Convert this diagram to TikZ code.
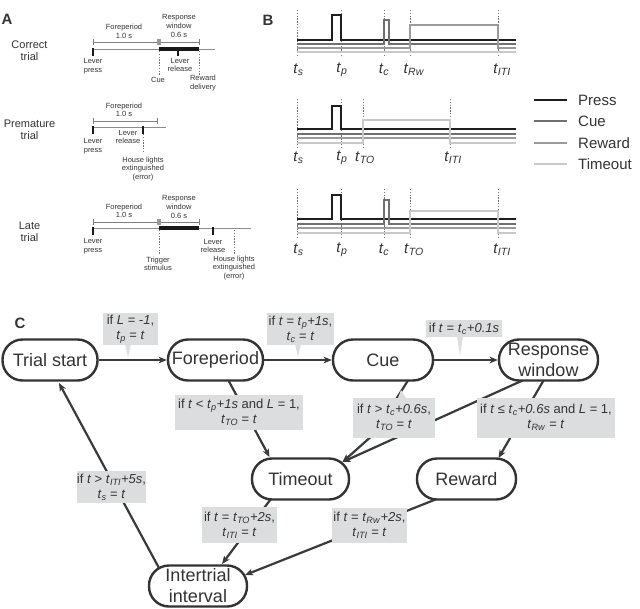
\documentclass[tikz,border=0pt]{standalone}
\usepackage{fontspec}
\setmainfont{Liberation Sans}
\usetikzlibrary{arrows.meta,calc}
\definecolor{ink}{HTML}{333333}
\definecolor{edgec}{HTML}{3A3A3A}
\definecolor{labfill}{HTML}{DCDDDF}
\definecolor{pressc}{HTML}{1E1E1E}
\definecolor{cuec}{HTML}{707070}
\definecolor{rewc}{HTML}{9B9B9B}
\definecolor{toc}{HTML}{C9C9C9}
\newcommand{\iv}[1]{\textit{#1}}
\newcommand{\tsb}[2]{\textit{#1}\textsubscript{\textit{#2}}}
\tikzset{
  plabel/.style={font=\fontsize{15}{17}\selectfont\bfseries, text=ink, inner sep=0},
  rowlab/.style={font=\fontsize{11}{12}\selectfont, text=ink, align=center, inner sep=0},
  atext/.style={font=\fontsize{7.5}{8.6}\selectfont, text=ink, align=center, inner sep=0},
  brk/.style={draw=black!50, line width=0.7pt},
  cuebox/.style={fill=black!40},
  tline/.style={draw=black!45, line width=0.8pt},
  bar/.style={draw=black!90, line width=3.6pt},
  tickm/.style={draw=black!90, line width=1.6pt},
  dsh/.style={draw=black!55, line width=0.6pt, dash pattern=on 1.4pt off 1.4pt},
  sig/.style={line width=2pt, line join=miter},
  tlab/.style={font=\fontsize{15}{17}\selectfont, text=ink, inner sep=0},
  legtext/.style={font=\fontsize{15}{17}\selectfont, text=ink, inner sep=0, anchor=west},
  state/.style={draw=ink, line width=2.4pt, rounded corners=20pt, minimum height=41pt,
    inner sep=0, align=center, font=\fontsize{18}{21}\selectfont, text=ink},
  cond/.style={fill=labfill, inner sep=0, align=center,
    font=\fontsize{13}{15}\selectfont, text=ink},
  edge/.style={draw=edgec, line width=2.2pt, -{Stealth[length=8pt,width=6.5pt,inset=2pt]}},
  ptr/.style={fill=labfill}
}
\begin{document}
\begin{tikzpicture}[x=1pt,y=-1pt]
\useasboundingbox (0,0) rectangle (640,608);
\fill[white] (0,0) rectangle (640,608);

% ---------- panel letters
\node[plabel] (lA) at (7,19) {A};
\node[plabel] (lB) at (268,20) {B};
\node[plabel] (lC) at (20,323) {C};

% ---------- Panel A : correct trial
\node[rowlab] (r1) at (29.5,51) {Correct\\trial};
\draw[brk] (93,39) -- (93,45) (93,42) -- (157,42);
\fill[cuebox] (157,39) rectangle (161,45);
\draw[brk] (161,42) -- (199,42) (199,39) -- (199,45);
\draw[tline] (93,49) -- (215,49);
\draw[bar] (159,49) -- (199,49);
\draw[tickm] (93,48) -- (93,56);
\draw[tickm] (178,49) -- (178,56);
\draw[dsh] (159,51) -- (159,75);
\draw[dsh] (199,51) -- (199,75);
\node[atext] (a1) at (124,31.5) {Foreperiod\\1.0 s};
\node[atext] (a2) at (179,26) {Response\\window\\0.6 s};
\node[atext] (a3) at (93,66) {Lever\\press};
\node[atext] (a4) at (158,80) {Cue};
\node[atext] (a5) at (180,65) {Lever\\release};
\node[atext] (a6) at (203,83) {Reward\\delivery};

% ---------- Panel A : premature trial
\node[rowlab] (r2) at (29.5,130) {Premature\\trial};
\draw[brk] (93,118) -- (93,124) (93,121) -- (157,121) (157,118) -- (157,124);
\draw[tline] (93,127) -- (166,127);
\draw[tickm] (93,126) -- (93,134);
\draw[tickm] (143,126) -- (143,134);
\draw[dsh] (143,134) -- (143,153);
\node[atext] (b1) at (124,110) {Foreperiod\\1.0 s};
\node[atext] (b2) at (93,146) {Lever\\press};
\node[atext] (b3) at (128,137) {Lever\\release};
\node[atext] (b4) at (143,169) {House lights\\extinguished\\(error)};

% ---------- Panel A : late trial
\node[rowlab] (r3) at (29.5,232) {Late\\trial};
\draw[brk] (93,219) -- (93,225) (93,222) -- (157,222);
\fill[cuebox] (157,219) rectangle (161,225);
\draw[brk] (161,222) -- (199,222) (199,219) -- (199,225);
\draw[tline] (93,228) -- (251,228);
\draw[bar] (159,228) -- (199,228);
\draw[tickm] (93,227) -- (93,235);
\draw[tickm] (213,227) -- (213,235);
\draw[dsh] (159,230) -- (159,255);
\draw[dsh] (234,230) -- (234,254);
\node[atext] (c1) at (124,211) {Foreperiod\\1.0 s};
\node[atext] (c2) at (179,207) {Response\\window\\0.6 s};
\node[atext] (c3) at (93,246) {Lever\\press};
\node[atext] (c4) at (158,264) {Trigger\\stimulus};
\node[atext] (c5) at (213,246) {Lever\\release};
\node[atext] (c6) at (234,268) {House lights\\extinguished\\(error)};

% ---------- Panel B : block 1 (correct)
\foreach \x in {297,341,384.5,410,498} \draw[dsh] (\x,10) -- (\x,57);
\draw[sig, draw=pressc] (297,40) -- (332,40) -- (332,15) -- (341,15) -- (341,40) -- (516,40);
\draw[sig, draw=cuec] (297,44) -- (384,44) -- (384,20) -- (389,20) -- (389,44) -- (516,44);
\draw[sig, draw=rewc] (297,48) -- (410,48) -- (410,25) -- (498,25) -- (498,48) -- (516,48);
\draw[sig, draw=toc] (297,52) -- (516,52);
\node[tlab] (p1s) at (298.5,70) {\tsb{t}{s}};
\node[tlab] (p1p) at (342,70) {\tsb{t}{p}};
\node[tlab] (p1c) at (384,70) {\tsb{t}{c}};
\node[tlab] (p1r) at (414,70) {\tsb{t}{Rw}};
\node[tlab] (p1i) at (502,70) {\tsb{t}{ITI}};

% ---------- Panel B : block 2 (premature)
\foreach \x in {297,341,363,450} \draw[dsh] (\x,99) -- (\x,148);
\draw[sig, draw=pressc] (297,129) -- (332,129) -- (332,106) -- (341,106) -- (341,129) -- (516,129);
\draw[sig, draw=cuec] (297,133.7) -- (516,133.7);
\draw[sig, draw=rewc] (297,138.4) -- (516,138.4);
\draw[sig, draw=toc] (297,143.1) -- (363,143.1) -- (363,120) -- (450,120) -- (450,143.1) -- (516,143.1);
\node[tlab] (p2s) at (298.5,158) {\tsb{t}{s}};
\node[tlab] (p2p) at (342,158) {\tsb{t}{p}};
\node[tlab] (p2t) at (365,158) {\tsb{t}{TO}};
\node[tlab] (p2i) at (453,158) {\tsb{t}{ITI}};

% ---------- Panel B : block 3 (late)
\foreach \x in {297,341,384.5,410,498} \draw[dsh] (\x,189) -- (\x,238);
\draw[sig, draw=pressc] (297,219) -- (332,219) -- (332,195) -- (341,195) -- (341,219) -- (516,219);
\draw[sig, draw=cuec] (297,223.7) -- (384,223.7) -- (384,200) -- (389,200) -- (389,223.7) -- (516,223.7);
\draw[sig, draw=rewc] (297,228.4) -- (516,228.4);
\draw[sig, draw=toc] (297,233.1) -- (410,233.1) -- (410,211) -- (498,211) -- (498,233.1) -- (516,233.1);
\node[tlab] (p3s) at (298.5,250) {\tsb{t}{s}};
\node[tlab] (p3p) at (342,250) {\tsb{t}{p}};
\node[tlab] (p3c) at (384,250) {\tsb{t}{c}};
\node[tlab] (p3t) at (414,250) {\tsb{t}{TO}};
\node[tlab] (p3i) at (502,250) {\tsb{t}{ITI}};

% ---------- Panel B : legend
\draw[sig, line width=2.4pt, draw=pressc] (534,100) -- (567,100);
\draw[sig, line width=2.4pt, draw=cuec] (534,121) -- (567,121);
\draw[sig, line width=2.4pt, draw=rewc] (534,143) -- (567,143);
\draw[sig, line width=2.4pt, draw=toc] (534,164) -- (567,164);
\node[legtext] (gp) at (578,100) {Press};
\node[legtext] (gc) at (578,121) {Cue};
\node[legtext] (gr) at (578,143) {Reward};
\node[legtext] (gt) at (578,164) {Timeout};

% ---------- Panel C : states
\node[state, minimum width=95pt] (ts) at (50,360) {Trial start};
\node[state, minimum width=95pt] (fp) at (215.5,360) {Foreperiod};
\node[state, minimum width=100pt] (cue) at (383,360) {Cue};
\node[state, minimum width=99pt] (rw) at (548.5,360) {Response\\window};
\node[state, minimum width=97pt] (to) at (300.5,479) {Timeout};
\node[state, minimum width=99pt] (rew) at (466.5,479) {Reward};
\node[state, minimum width=98pt] (iti) at (198,586) {Intertrial\\interval};

% ---------- Panel C : transitions
\draw[edge] (ts.east) -- (fp.west);
\draw[edge] (fp.east) -- (cue.west);
\draw[edge] (cue.east) -- (rw.west);
\draw[edge] ($(fp)+(13,20.5)$) -- ($(to)+(-31,-22)$);
\draw[edge] ($(cue)+(25,20.5)$) -- (374,434) -- ($(to)+(42,-17)$);
\draw[edge] ($(rw)+(-26,20.5)$) -- ($(to)+(42,-17)$);
\draw[edge] ($(rw)+(-5,20.5)$) -- ($(rew)+(32,-21)$);
\draw[edge] ($(to)+(-30,20.5)$) -- ($(iti)+(24,-22)$);
\draw[edge] ($(rew)+(-31,20.5)$) -- ($(iti)+(47,-11)$);
\draw[edge] ($(iti)+(-39,-18)$) -- ($(ts)+(9,23)$);

% ---------- Panel C : condition boxes
\fill[ptr] (125,344) -- (131,344) -- (128,357) -- cycle;
\fill[ptr] (295,344) -- (301,344) -- (298,357) -- cycle;
\fill[ptr] (457,336) -- (463,336) -- (460,356) -- cycle;
\fill[ptr] (398,398) -- (406,398) -- (401,390) -- cycle;
\node[cond, minimum width=55pt, minimum height=32pt] (k1) at (130.5,329)
  {if \iv{L} = \iv{-1},\\ \tsb{t}{p} = \iv{t}};
\node[cond, minimum width=67pt, minimum height=32pt] (k2) at (300.5,329)
  {if \iv{t} = \tsb{t}{p}\iv{+1s},\\ \tsb{t}{c} = \iv{t}};
\node[cond, minimum width=76pt, minimum height=17pt] (k3) at (464,328.5)
  {if \iv{t} = \tsb{t}{c}\iv{+0.1s}};
\node[cond, minimum width=128pt, minimum height=35pt] (k4) at (239,412.5)
  {if \iv{t} < \tsb{t}{p}\iv{+1s} and \iv{L} = 1,\\ \tsb{t}{TO} = \iv{t}};
\node[cond, minimum width=82pt, minimum height=40pt] (k5) at (394,417.5)
  {if \iv{t} > \tsb{t}{c}\iv{+0.6s},\\ \tsb{t}{TO} = \iv{t}};
\node[cond, minimum width=138pt, minimum height=40pt] (k6) at (546,417.5)
  {if \iv{t} ≤ \tsb{t}{c}\iv{+0.6s} and \iv{L} = 1,\\ \tsb{t}{Rw} = \iv{t}};
\node[cond, minimum width=69pt, minimum height=32pt] (k7) at (111.5,487)
  {if \iv{t} > \tsb{t}{ITI}\iv{+5s},\\ \tsb{t}{s} = \iv{t}};
\node[cond, minimum width=75pt, minimum height=36pt] (k8) at (239.5,525)
  {if \iv{t} = \tsb{t}{TO}\iv{+2s},\\ \tsb{t}{ITI} = \iv{t}};
\node[cond, minimum width=75pt, minimum height=35pt] (k9) at (369.5,525.5)
  {if \iv{t} = \tsb{t}{Rw}\iv{+2s},\\ \tsb{t}{ITI} = \iv{t}};
\end{tikzpicture}
\end{document}
